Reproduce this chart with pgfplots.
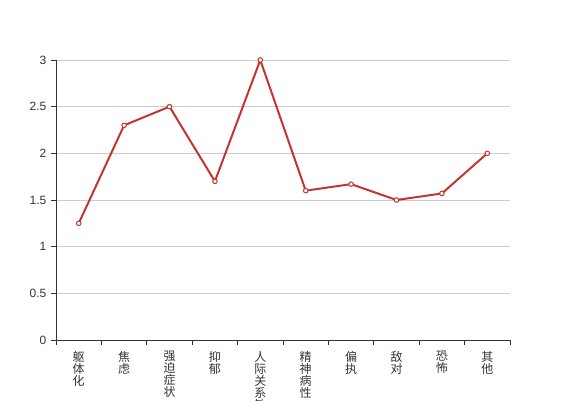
\documentclass[border=0pt]{standalone}
\usepackage{pgfplots}
\pgfplotsset{compat=1.18}
\usepackage{fontspec}
\setmainfont{Liberation Sans}
\newfontfamily\cjk{Noto Sans CJK SC}
\definecolor{lc}{HTML}{C23531}
\definecolor{ax}{HTML}{333333}
\definecolor{gr}{HTML}{CCCCCC}
\begin{document}
\begin{tikzpicture}
\begin{axis}[
  at={(0,0)}, anchor=south west,
  scale only axis,
  width=340.5pt, height=210pt,
  xmin=-0.5, xmax=9.5, ymin=0, ymax=3,
  axis lines*=left,
  axis line style={ax, line width=0.75pt},
  xtick={-0.5,0.5,...,9.5},
  x tick label as interval,
  xticklabels={{躯\\体\\化},{焦\\虑},{强\\迫\\症\\状},{抑\\郁},{人\\际\\关\\系\\敏\\感},{精\\神\\病\\性},{偏\\执},{敌\\对},{恐\\怖},{其\\他}},
  x tick label style={font=\cjk\fontsize{9}{9}\selectfont, align=center, text width=1em, text=ax, anchor=north, yshift=-1pt},
  ytick={0,0.5,...,3},
  y tick label style={font=\fontsize{9}{10}\selectfont, text=ax},
  /pgf/number format/assume math mode=true,
  tick align=outside,
  major tick length=3.75pt,
  tick style={ax, line width=0.75pt},
  ymajorgrids,
  grid style={gr, line width=0.75pt},
  clip=false,
]
\addplot[lc, line width=1.5pt, mark=*, mark size=1.7pt, mark options={fill=white, line width=0.75pt}]
coordinates {(0,1.25) (1,2.3) (2,2.5) (3,1.7) (4,3.0) (5,1.6) (6,1.67) (7,1.5) (8,1.57) (9,2.0)};
\end{axis}
\pgfresetboundingbox
\path[use as bounding box] (-42pt,-45pt) rectangle (383.25pt,255pt);
\end{tikzpicture}
\end{document}
